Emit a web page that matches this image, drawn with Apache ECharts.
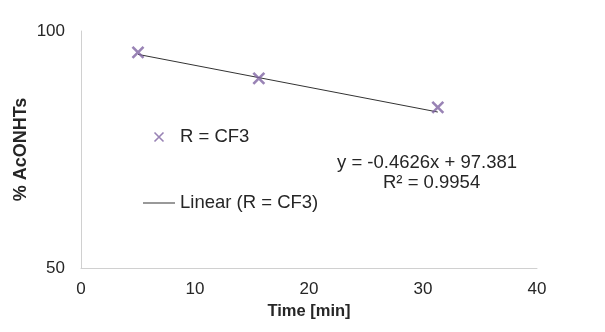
<!DOCTYPE html>
<html>
<head>
<meta charset="utf-8">
<script src="https://cdn.jsdelivr.net/npm/echarts@6/dist/echarts.min.js"></script>
<style>
  html, body { margin: 0; padding: 0; background: #fff; }
  #chart { width: 605px; height: 332px; }
</style>
</head>
<body>
<div id="chart"></div>
<script>
// Measured samples: reaction time (min) vs remaining % AcONHTs
const timeMin = [5, 15.6, 31.3];
const percentAcONHTs = [95.5, 90.0, 83.9];

// Least-squares trendline reported for the series
const trendSlope = -0.4626;
const trendIntercept = 97.381;
const trendR2 = 0.9954;

const seriesName = 'R = CF3';
const trendName = 'Linear (R = CF3)';
const xTicks = { min: 0, max: 40, step: 10 };
const yTicks = { min: 50, max: 100, step: 50 };

const points = timeMin.map((t, i) => [t, percentAcONHTs[i]]);
const xLo = Math.min(...timeMin);
const xHi = Math.max(...timeMin);
const trendPoints = [xLo, xHi].map(x => [x, trendSlope * x + trendIntercept]);

const fmt = (v, d) => v.toFixed(d);
const eqLine = 'y = ' + fmt(trendSlope, 4) + 'x + ' + fmt(trendIntercept, 3);
const r2Line = 'R\u00B2 = ' + fmt(trendR2, 4);

const FONT = '"Liberation Sans", Arial, sans-serif';
const textColor = '#262626';
const purple = '#8064A2';

// Cross marker; the legend version carries invisible padding so it draws smaller
const crossPath = 'path://M0,0L10,10M10,0L0,10';
const legendCrossPath = 'path://M0,0M2.5,2.5L11.5,11.5M11.5,2.5L2.5,11.5M14,14';
// Thin horizontal stroke padded to the full icon box
const legendLinePath = 'path://M0,0M0,6.5L32,6.5L32,7.5L0,7.5ZM32,14';

const chart = echarts.init(document.getElementById('chart'), null, { renderer: 'canvas' });
chart.setOption({
  animation: false,
  backgroundColor: '#fff',
  textStyle: { fontFamily: FONT },
  grid: { left: 81, right: 68, top: 31, bottom: 64, containLabel: false, outerBoundsMode: 'none' },
  xAxis: {
    type: 'value',
    min: xTicks.min, max: xTicks.max, interval: xTicks.step,
    name: 'Time [min]',
    nameLocation: 'middle',
    nameGap: 35,
    nameMoveOverlap: false,
    nameTextStyle: { fontFamily: FONT, fontSize: 16.5, fontWeight: 'bold', color: textColor },
    axisLine: { show: true, lineStyle: { color: '#D0D0D0', width: 1 } },
    axisTick: { show: false },
    splitLine: { show: false },
    axisLabel: { fontFamily: FONT, fontSize: 17, color: textColor, margin: 13 }
  },
  yAxis: {
    type: 'value',
    min: yTicks.min, max: yTicks.max, interval: yTicks.step,
    name: '% AcONHTs',
    nameLocation: 'middle',
    nameGap: 51,
    nameRotate: 90,
    nameMoveOverlap: false,
    nameTextStyle: { fontFamily: FONT, fontSize: 18, fontWeight: 'bold', color: textColor },
    axisLine: { show: true, lineStyle: { color: '#D0D0D0', width: 1 } },
    axisTick: { show: false },
    splitLine: { show: false },
    axisLabel: { fontFamily: FONT, fontSize: 17, color: textColor, margin: 16 }
  },
  legend: {
    orient: 'vertical',
    left: 138,
    top: 122,
    padding: 5,
    itemGap: 46,
    itemWidth: 32,
    itemHeight: 14,
    textStyle: { fontFamily: FONT, fontSize: 18.5, color: textColor, lineHeight: 20 },
    data: [
      { name: seriesName, icon: legendCrossPath,
        itemStyle: { color: 'transparent', borderColor: purple, borderWidth: 1.6 } },
      { name: trendName, icon: legendLinePath,
        itemStyle: { color: '#333', borderWidth: 0 } }
    ]
  },
  series: [
    {
      name: trendName,
      type: 'line',
      data: trendPoints,
      symbol: 'none',
      showSymbol: false,
      lineStyle: { color: '#333', width: 1 },
      itemStyle: { color: '#333' },
      z: 2
    },
    {
      name: seriesName,
      type: 'scatter',
      data: points,
      symbol: crossPath,
      symbolSize: 11,
      itemStyle: { color: 'transparent', borderColor: purple, borderWidth: 2.6 },
      z: 3
    }
  ],
  graphic: [
    {
      type: 'text',
      left: 337, top: 153,
      style: { text: eqLine, font: '18.5px ' + FONT, fill: textColor }
    },
    {
      type: 'text',
      left: 383, top: 173,
      style: { text: r2Line, font: '18.5px ' + FONT, fill: textColor }
    }
  ]
});
</script>
</body>
</html>
